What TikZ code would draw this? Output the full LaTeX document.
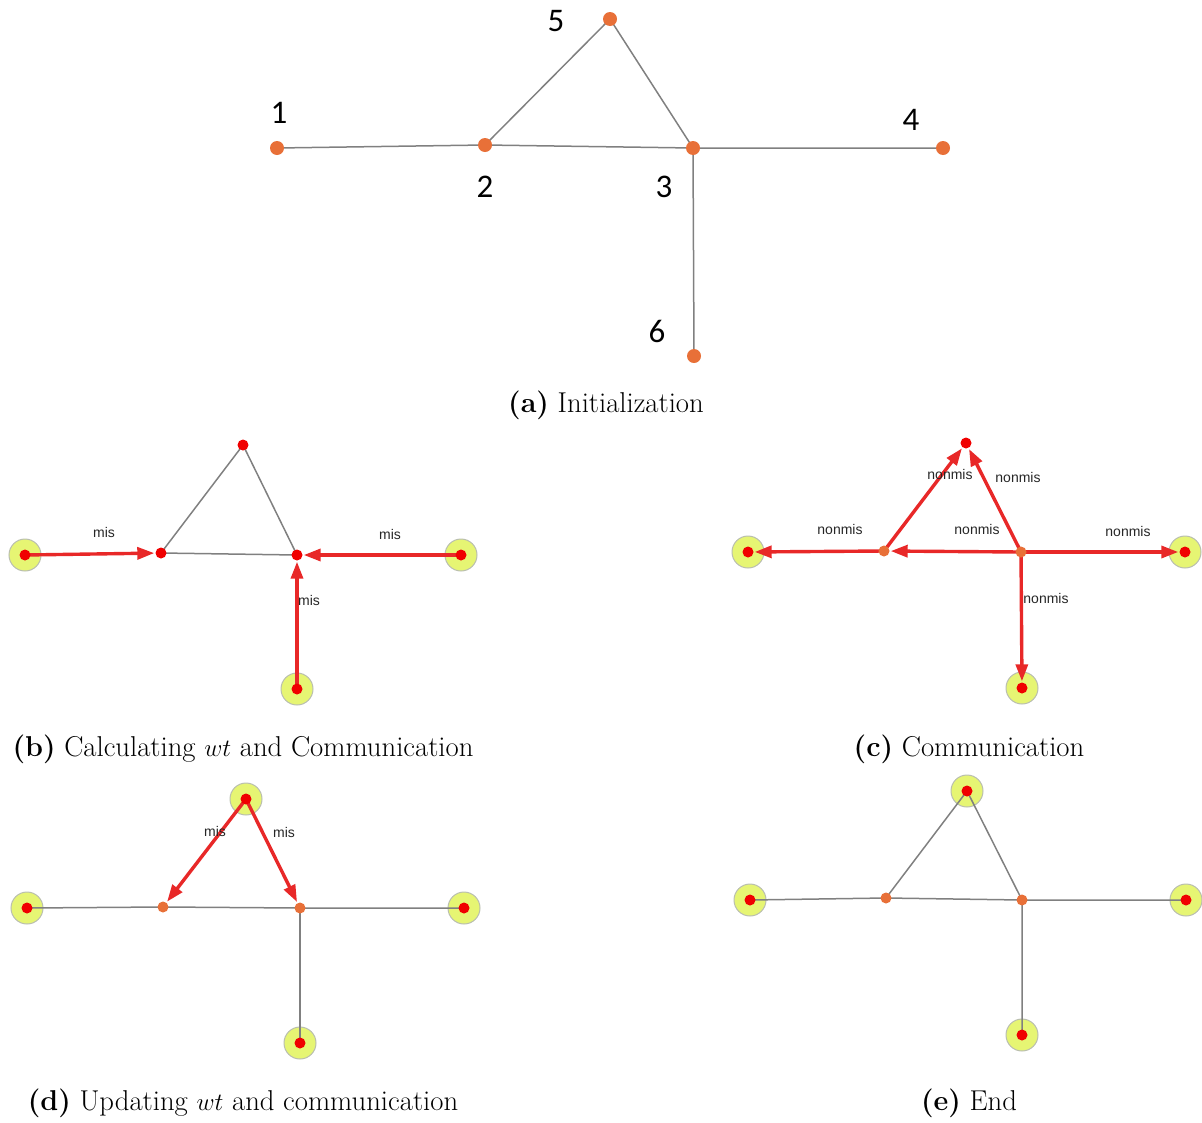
\documentclass[tikz,border=0pt]{standalone}
\usepackage{fontspec}
\newfontfamily\numfont{Carlito}
\newfontfamily\lblfont{Liberation Sans}
\usetikzlibrary{arrows.meta}
\definecolor{orangenode}{RGB}{232,112,56}
\definecolor{reddot}{RGB}{240,0,0}
\definecolor{halofill}{RGB}{230,245,115}
\definecolor{halodraw}{RGB}{185,190,175}
\definecolor{edgegray}{RGB}{128,128,128}
\definecolor{arrowred}{RGB}{232,40,40}
\pgfdeclarelayer{background}
\pgfdeclarelayer{edges}
\pgfsetlayers{background,edges,main}
\begin{document}
\begin{tikzpicture}[x=1pt,y=-1pt,
  vtxA/.style={circle,fill=orangenode,inner sep=0pt,minimum size=14pt},
  vtxO/.style={circle,fill=orangenode,inner sep=0pt,minimum size=11pt},
  vtxR/.style={circle,fill=reddot,inner sep=0pt,minimum size=11pt},
  halo/.style={fill=halofill,draw=halodraw,line width=1pt},
  gedge/.style={draw=edgegray,line width=1.5pt},
  redarrow/.style={draw=arrowred,line width=3.4pt,-{Triangle[length=17pt,width=12pt]},shorten >=1pt},
  elabel/.style={font=\lblfont\fontsize{14}{14}\selectfont,text=black!85,inner sep=0pt},
  numlabel/.style={font=\numfont\fontsize{33}{33}\selectfont,inner sep=0pt},
  captionlbl/.style={font=\fontsize{28.7}{34}\selectfont,inner sep=0pt}]
\useasboundingbox (0,0) rectangle (1202,1122);

% ---------------- (a) ----------------
\node[vtxA] (a1) at (277,148) {};
\node[vtxA] (a2) at (485,145) {};
\node[vtxA] (a3) at (693,148) {};
\node[vtxA] (a4) at (943,148) {};
\node[vtxA] (a5) at (610,19) {};
\node[vtxA] (a6) at (694,356) {};
\begin{pgfonlayer}{edges}
\draw[gedge] (a1.center) -- (a2.center) -- (a3.center) -- (a4.center);
\draw[gedge] (a2.center) -- (a5.center) -- (a3.center) -- (a6.center);
\end{pgfonlayer}
\node[numlabel] (n1) at (279,113) {1};
\node[numlabel] (n2) at (485,187) {2};
\node[numlabel] (n3) at (664,187) {3};
\node[numlabel] (n4) at (911,120) {4};
\node[numlabel] (n5) at (556,21) {5};
\node[numlabel] (n6) at (657,331) {6};
\node[captionlbl] (capa) at (606,405) {\textbf{(a)} Initialization};

% ---------------- (b) ----------------
\node[vtxR] (b1) at (25,555) {};
\node[vtxR] (b2) at (161,553) {};
\node[vtxR] (b3) at (297,555) {};
\node[vtxR] (b4) at (461,555) {};
\node[vtxR] (b5) at (243,445) {};
\node[vtxR] (b6) at (297,689) {};
\begin{pgfonlayer}{background}
\foreach \n in {b1,b4,b6} \filldraw[halo] (\n.center) circle (16pt);
\end{pgfonlayer}
\begin{pgfonlayer}{edges}
\draw[gedge] (b2.center) -- (b3.center);
\draw[gedge] (b2.center) -- (b5.center) -- (b3.center);
\draw[redarrow] (b1.center) -- (b2);
\draw[redarrow] (b4.center) -- (b3);
\draw[redarrow] (b6.center) -- (b3);
\end{pgfonlayer}
\node[elabel] (lb1) at (104,532) {mis};
\node[elabel] (lb2) at (390,534) {mis};
\node[elabel] (lb3) at (309,600) {mis};
\node[captionlbl] (capb) at (243,749) {\textbf{(b)} Calculating $wt$ and Communication};

% ---------------- (c) ----------------
\node[vtxR] (c1) at (748,552) {};
\node[vtxO] (c2) at (884,551) {};
\node[vtxO] (c3) at (1021,552) {};
\node[vtxR] (c4) at (1185,552) {};
\node[vtxR] (c5) at (966,443) {};
\node[vtxR] (c6) at (1022,688) {};
\begin{pgfonlayer}{background}
\foreach \n in {c1,c4,c6} \filldraw[halo] (\n.center) circle (16pt);
\end{pgfonlayer}
\begin{pgfonlayer}{edges}
\draw[redarrow] (c3.center) -- (c2);
\draw[redarrow] (c2.center) -- (c1);
\draw[redarrow] (c3.center) -- (c4);
\draw[redarrow] (c3.center) -- (c6);
\draw[redarrow] (c2.center) -- (c5);
\draw[redarrow] (c3.center) -- (c5);
\end{pgfonlayer}
\node[elabel] (lc1) at (840,529) {nonmis};
\node[elabel] (lc2) at (977,529) {nonmis};
\node[elabel] (lc3) at (1128,531) {nonmis};
\node[elabel] (lc4) at (1046,598) {nonmis};
\node[elabel] (lc5) at (950,474) {nonmis};
\node[elabel] (lc6) at (1018,477) {nonmis};
\node[captionlbl] (capc) at (969,749) {\textbf{(c)} Communication};

% ---------------- (d) ----------------
\node[vtxR] (d1) at (27,908) {};
\node[vtxO] (d2) at (163,907) {};
\node[vtxO] (d3) at (300,908) {};
\node[vtxR] (d4) at (464,908) {};
\node[vtxR] (d5) at (246,799) {};
\node[vtxR] (d6) at (300,1043) {};
\begin{pgfonlayer}{background}
\foreach \n in {d1,d4,d5,d6} \filldraw[halo] (\n.center) circle (16pt);
\end{pgfonlayer}
\begin{pgfonlayer}{edges}
\draw[gedge] (d1.center) -- (d2.center) -- (d3.center) -- (d4.center);
\draw[gedge] (d3.center) -- (d6.center);
\draw[redarrow] (d5.center) -- (d2);
\draw[redarrow] (d5.center) -- (d3);
\end{pgfonlayer}
\node[elabel] (ld1) at (215,831) {mis};
\node[elabel] (ld2) at (284,832) {mis};
\node[captionlbl] (capd) at (243,1103) {\textbf{(d)} Updating $wt$ and communication};

% ---------------- (e) ----------------
\node[vtxR] (e1) at (750,900) {};
\node[vtxO] (e2) at (886,898) {};
\node[vtxO] (e3) at (1022,900) {};
\node[vtxR] (e4) at (1186,900) {};
\node[vtxR] (e5) at (967,791) {};
\node[vtxR] (e6) at (1022,1035) {};
\begin{pgfonlayer}{background}
\foreach \n in {e1,e4,e5,e6} \filldraw[halo] (\n.center) circle (16pt);
\end{pgfonlayer}
\begin{pgfonlayer}{edges}
\draw[gedge] (e1.center) -- (e2.center) -- (e3.center) -- (e4.center);
\draw[gedge] (e2.center) -- (e5.center) -- (e3.center) -- (e6.center);
\end{pgfonlayer}
\node[captionlbl] (cape) at (969,1103) {\textbf{(e)} End};
\end{tikzpicture}
\end{document}
